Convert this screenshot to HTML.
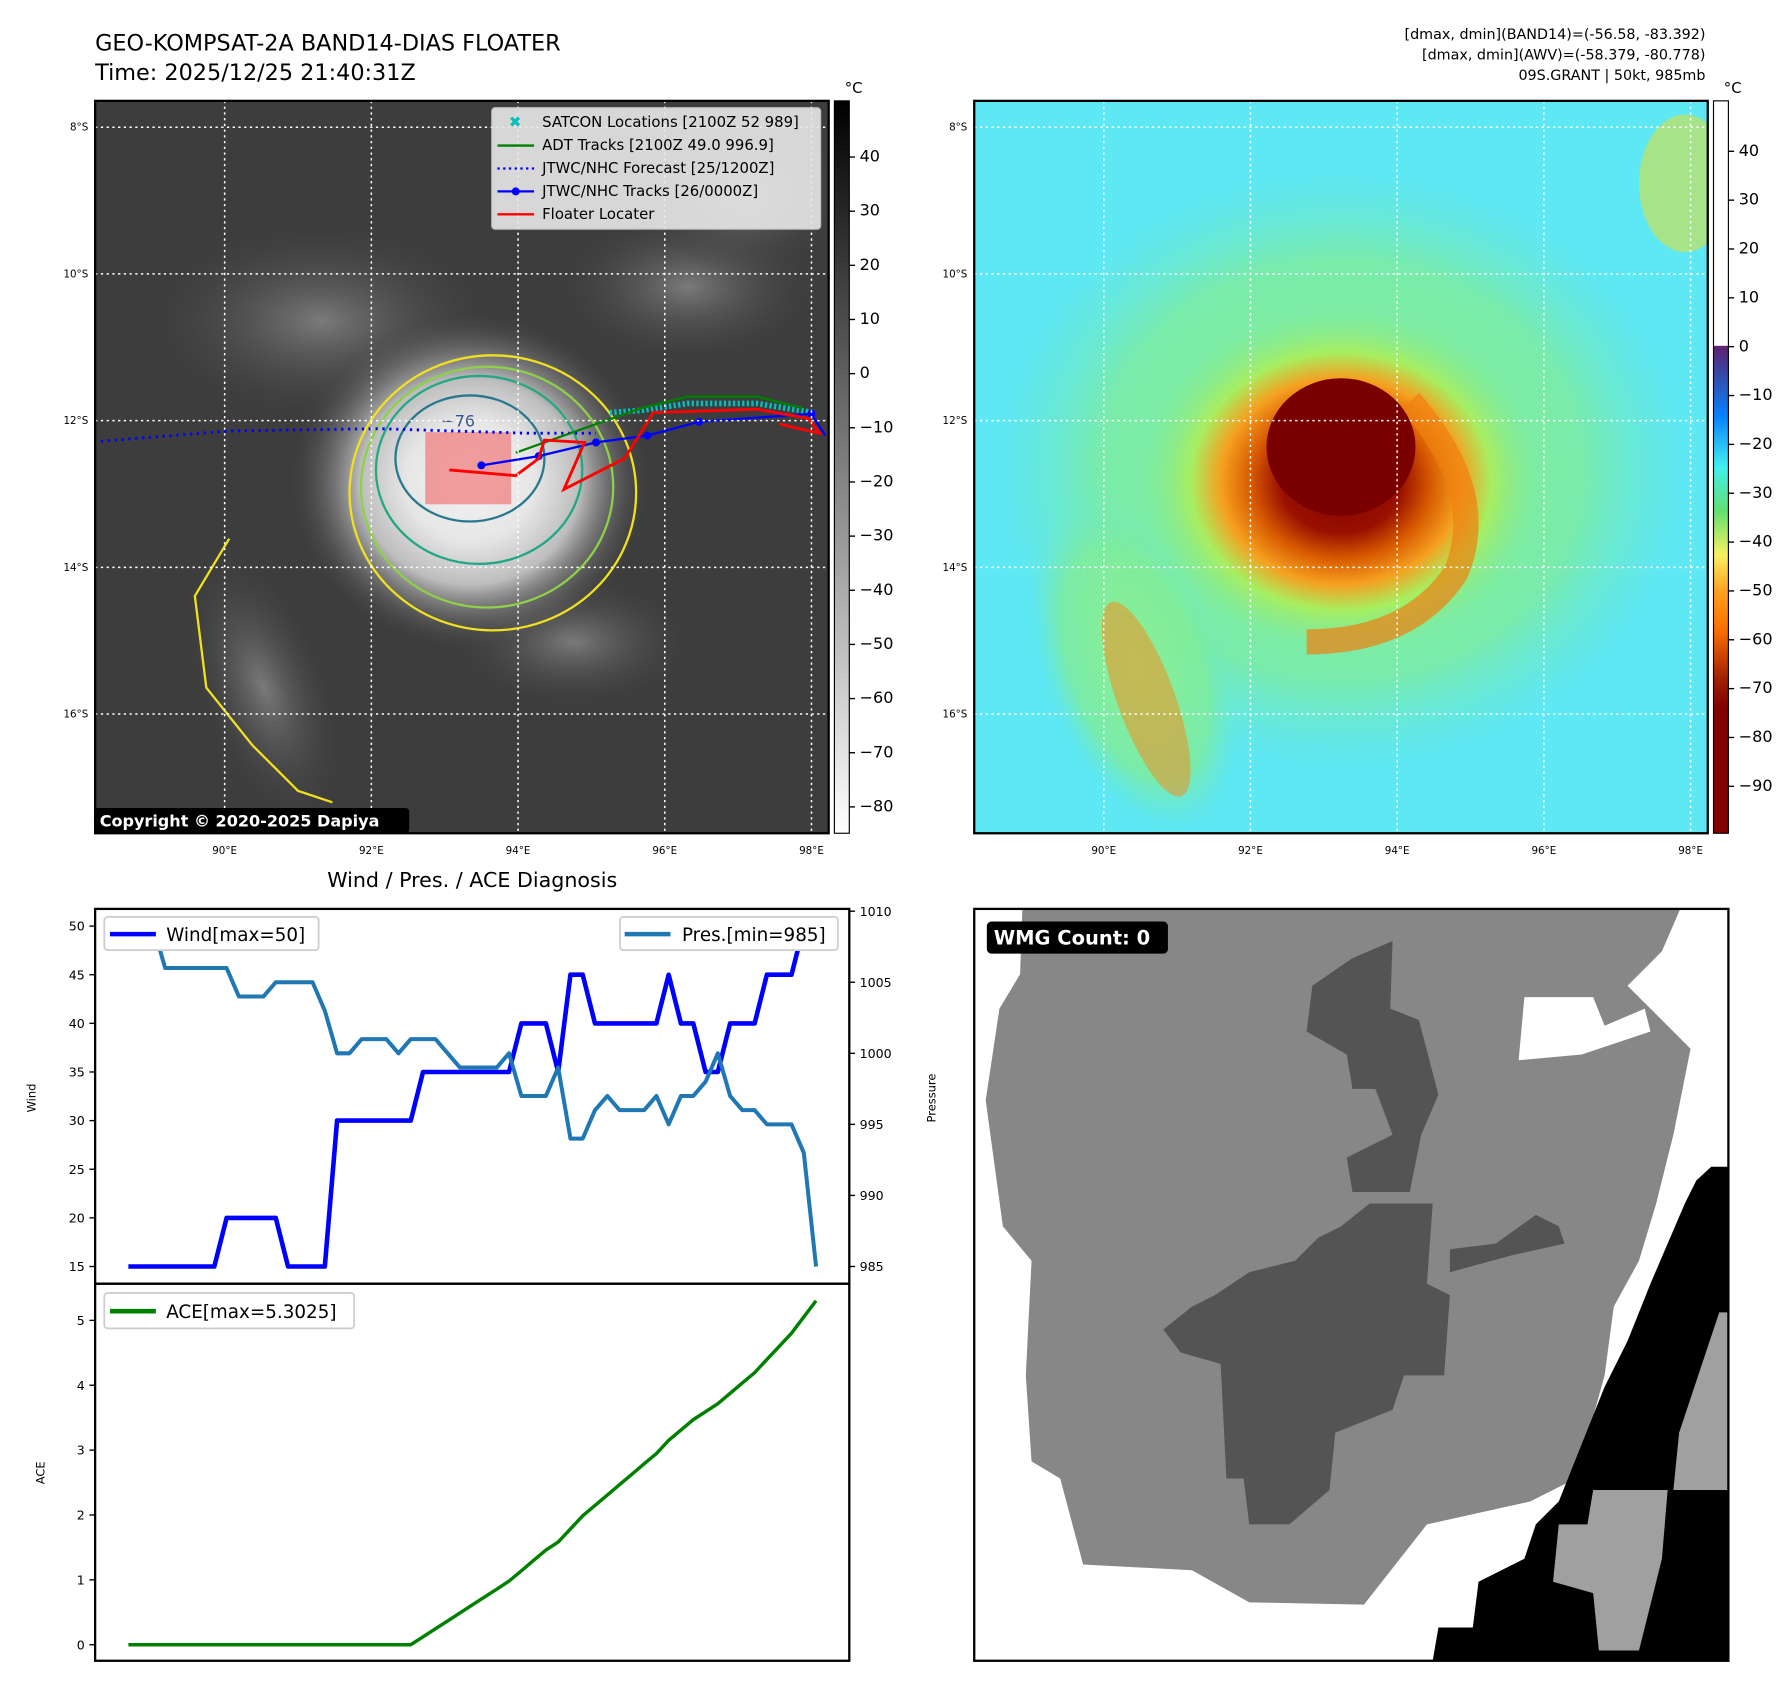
<!DOCTYPE html>
<html><head><meta charset="utf-8"><style>
html,body{margin:0;padding:0;background:#fff}
svg{display:block;font-family:"DejaVu Sans","Liberation Sans",sans-serif}
</style></head><body>
<svg id="fig" width="1788" height="1690" viewBox="0 0 1560 1474.5" xmlns="http://www.w3.org/2000/svg">
<defs>
<radialGradient id="stormL" cx="0.5" cy="0.5" r="0.5">
<stop offset="0" stop-color="#f4f4f4"/><stop offset="0.35" stop-color="#e6e6e6"/><stop offset="0.6" stop-color="#bdbdbd"/><stop offset="1" stop-color="#3c3c3c" stop-opacity="0"/></radialGradient>
<radialGradient id="stormR" cx="0.5" cy="0.5" r="0.5">
<stop offset="0" stop-color="#7a0000"/><stop offset="0.3" stop-color="#9a1000"/><stop offset="0.45" stop-color="#d85a00"/><stop offset="0.6" stop-color="#f5a020"/><stop offset="0.75" stop-color="#a8ee60"/><stop offset="1" stop-color="#80ea90" stop-opacity="0"/></radialGradient>
<radialGradient id="haloR" cx="0.5" cy="0.5" r="0.5">
<stop offset="0" stop-color="#8ff090"/><stop offset="0.7" stop-color="#80ec98" stop-opacity="0.8"/><stop offset="1" stop-color="#70e8c0" stop-opacity="0"/></radialGradient>
<radialGradient id="cloudL" cx="0.5" cy="0.5" r="0.5">
<stop offset="0" stop-color="#8a8a8a" stop-opacity="0.8"/><stop offset="1" stop-color="#3d3d3d" stop-opacity="0"/></radialGradient>
<linearGradient id="cbL" x1="0" y1="0" x2="0" y2="1"><stop offset="0" stop-color="#000"/><stop offset="1" stop-color="#fff"/></linearGradient>
<linearGradient id="cbR" x1="0" y1="0" x2="0" y2="1">
<stop offset="0" stop-color="#fff"/><stop offset="0.334" stop-color="#fff"/><stop offset="0.335" stop-color="#602070"/><stop offset="0.38" stop-color="#3050b0"/><stop offset="0.43" stop-color="#0880ff"/><stop offset="0.50" stop-color="#40f0f0"/><stop offset="0.56" stop-color="#60e070"/><stop offset="0.62" stop-color="#f8f060"/><stop offset="0.67" stop-color="#ffa020"/><stop offset="0.72" stop-color="#ff7000"/><stop offset="0.79" stop-color="#a02000"/><stop offset="0.83" stop-color="#800000"/><stop offset="1" stop-color="#800000"/></linearGradient>
<clipPath id="clipL"><rect x="83" y="88" width="640" height="639"/></clipPath>
<clipPath id="clipR"><rect x="850" y="88" width="640" height="639"/></clipPath>
<clipPath id="clipW"><rect x="850" y="793" width="658" height="656"/></clipPath>
</defs>

<text x="83" y="44" font-size="19.5">GEO-KOMPSAT-2A BAND14-DIAS FLOATER</text>
<text x="83" y="70" font-size="19.5">Time: 2025/12/25 21:40:31Z</text>
<g font-size="12.5" text-anchor="end">
<text x="1488" y="34">[dmax, dmin](BAND14)=(-56.58, -83.392)</text>
<text x="1488" y="52">[dmax, dmin](AWV)=(-58.379, -80.778)</text>
<text x="1488" y="70">09S.GRANT | 50kt, 985mb</text>
</g>

<g clip-path="url(#clipL)">
<rect x="83" y="88" width="640" height="639" fill="#3d3d3d"/>
<ellipse cx="280" cy="280" rx="160" ry="90" fill="url(#cloudL)"/>
<ellipse cx="600" cy="250" rx="120" ry="70" fill="url(#cloudL)"/>
<ellipse cx="230" cy="600" rx="60" ry="130" fill="url(#cloudL)" transform="rotate(-20 230 600)"/>
<ellipse cx="500" cy="560" rx="110" ry="60" fill="url(#cloudL)"/>
<ellipse cx="650" cy="170" rx="90" ry="70" fill="url(#cloudL)"/>
<ellipse cx="410" cy="420" rx="160" ry="150" fill="url(#stormL)"/>
<ellipse cx="430" cy="430" rx="125" ry="120" fill="none" stroke="#f0e020" stroke-width="2"/>
<ellipse cx="425" cy="425" rx="110" ry="105" fill="none" stroke="#8fd048" stroke-width="2"/>
<ellipse cx="418" cy="410" rx="90" ry="82" fill="none" stroke="#22a884" stroke-width="2"/>
<ellipse cx="410" cy="400" rx="65" ry="55" fill="none" stroke="#2a788e" stroke-width="2"/>
<path d="M200,470 L170,520 180,600 220,650 260,690 290,700" fill="none" stroke="#f0e020" stroke-width="2"/>
<text x="385" y="372" font-size="14" fill="#3b528b">−76</text>
<rect x="371" y="377" width="75" height="63" fill="#f08080" opacity="0.75"/>
<polyline points="88,385 200,376 330,374 460,378 520,378" fill="none" stroke="#0000ff" stroke-width="2.5" stroke-dasharray="2,4"/>
<polyline points="532,360 560,358 600,352 660,352 710,360" fill="none" stroke="#00c0c0" stroke-width="5" stroke-dasharray="2,2"/>
<polyline points="450,395 520,370 560,356 600,346 660,346 700,356" fill="none" stroke="#008000" stroke-width="2"/>
<polyline points="420,406 470,398 520,386 565,380 610,368 708,361 720,380" fill="none" stroke="#0000ff" stroke-width="2"/>
<g fill="#0000ff"><circle cx="420" cy="406" r="3.5"/><circle cx="470" cy="398" r="3.5"/><circle cx="520" cy="386" r="3.5"/><circle cx="565" cy="380" r="3.5"/><circle cx="610" cy="368" r="3.5"/><circle cx="708" cy="361" r="3.5"/></g>
<polyline points="392,410 450,415 470,400 475,384 510,386 492,427 545,400 570,360 660,357 705,365 715,378 680,370" fill="none" stroke="#ff0000" stroke-width="2.5"/>
<g stroke="#ffffff" stroke-width="1.3" stroke-dasharray="2,3">
<line x1="83" y1="111" x2="723" y2="111"/><line x1="83" y1="239" x2="723" y2="239"/><line x1="83" y1="367" x2="723" y2="367"/><line x1="83" y1="495" x2="723" y2="495"/><line x1="83" y1="623" x2="723" y2="623"/>
<line x1="196" y1="88" x2="196" y2="727"/><line x1="324" y1="88" x2="324" y2="727"/><line x1="452" y1="88" x2="452" y2="727"/><line x1="580" y1="88" x2="580" y2="727"/><line x1="708" y1="88" x2="708" y2="727"/>
</g>
</g>
<rect x="83" y="88" width="640" height="639" fill="none" stroke="#000" stroke-width="2"/>
<g font-size="13">
<rect x="429" y="94" width="287" height="106" rx="3" fill="#e8e8e8" opacity="0.9" stroke="#ccc"/>
<text x="444" y="111" font-size="13" fill="#00bfbf">✖</text><text x="473" y="111">SATCON Locations [2100Z 52 989]</text>
<line x1="434" y1="127" x2="466" y2="127" stroke="#008000" stroke-width="2"/><text x="473" y="131">ADT Tracks [2100Z 49.0 996.9]</text>
<line x1="434" y1="147" x2="466" y2="147" stroke="#0000ff" stroke-width="2" stroke-dasharray="2,3"/><text x="473" y="151">JTWC/NHC Forecast [25/1200Z]</text>
<line x1="434" y1="167" x2="466" y2="167" stroke="#0000ff" stroke-width="2"/><circle cx="450" cy="167" r="3.5" fill="#0000ff"/><text x="473" y="171">JTWC/NHC Tracks [26/0000Z]</text>
<line x1="434" y1="187" x2="466" y2="187" stroke="#ff0000" stroke-width="2"/><text x="473" y="191">Floater Locater</text>
</g>
<rect x="82" y="705" width="275" height="22" rx="3" fill="#000"/>
<text x="87" y="721" font-size="14" font-weight="bold" fill="#fff">Copyright © 2020-2025 Dapiya</text>

<g clip-path="url(#clipR)">
<rect x="850" y="88" width="640" height="639" fill="#5ee8f4"/>
<ellipse cx="1170" cy="410" rx="300" ry="260" fill="url(#haloR)"/>
<ellipse cx="990" cy="580" rx="80" ry="150" fill="url(#haloR)" transform="rotate(-20 990 580)"/>
<ellipse cx="1000" cy="610" rx="25" ry="90" fill="#f09020" opacity="0.55" transform="rotate(-20 1000 610)"/>
<ellipse cx="1470" cy="160" rx="40" ry="60" fill="#d8e040" opacity="0.6"/>
<ellipse cx="1170" cy="420" rx="175" ry="150" fill="url(#stormR)"/>
<path d="M1230,350 Q1300,430 1270,500 Q1230,560 1140,560" fill="none" stroke="#f08010" stroke-width="22" opacity="0.7"/>
<ellipse cx="1170" cy="390" rx="65" ry="60" fill="#7a0000"/>
<g stroke="#ffffff" stroke-width="1.3" stroke-dasharray="2,3">
<line x1="850" y1="111" x2="1490" y2="111"/><line x1="850" y1="239" x2="1490" y2="239"/><line x1="850" y1="367" x2="1490" y2="367"/><line x1="850" y1="495" x2="1490" y2="495"/><line x1="850" y1="623" x2="1490" y2="623"/>
<line x1="963" y1="88" x2="963" y2="727"/><line x1="1091" y1="88" x2="1091" y2="727"/><line x1="1219" y1="88" x2="1219" y2="727"/><line x1="1347" y1="88" x2="1347" y2="727"/><line x1="1475" y1="88" x2="1475" y2="727"/>
</g>
</g>
<rect x="850" y="88" width="640" height="639" fill="none" stroke="#000" stroke-width="2"/>

<g font-size="9" text-anchor="end">
<text x="77" y="114">8°S</text><text x="77" y="242">10°S</text><text x="77" y="370">12°S</text><text x="77" y="498">14°S</text><text x="77" y="626">16°S</text>
<text x="844" y="114">8°S</text><text x="844" y="242">10°S</text><text x="844" y="370">12°S</text><text x="844" y="498">14°S</text><text x="844" y="626">16°S</text>
</g>
<g font-size="9" text-anchor="middle">
<text x="196" y="745">90°E</text><text x="324" y="745">92°E</text><text x="452" y="745">94°E</text><text x="580" y="745">96°E</text><text x="708" y="745">98°E</text>
<text x="963" y="745">90°E</text><text x="1091" y="745">92°E</text><text x="1219" y="745">94°E</text><text x="1347" y="745">96°E</text><text x="1475" y="745">98°E</text>
</g>

<g>
<rect x="728" y="88" width="13" height="639" fill="url(#cbL)" stroke="#000"/>
<text x="737" y="81" font-size="13">°C</text>
<g id="cbLticks"></g>
</g>
<g>
<rect x="1495" y="88" width="13" height="639" fill="url(#cbR)" stroke="#000"/>
<text x="1504" y="81" font-size="13">°C</text>
<g id="cbRticks"></g>
</g>

<text x="412" y="774" font-size="18" text-anchor="middle">Wind / Pres. / ACE Diagnosis</text>
<g id="diag"></g>
<rect x="83" y="793" width="658" height="327" fill="none" stroke="#000" stroke-width="2"/>
<rect x="83" y="1120" width="658" height="329" fill="none" stroke="#000" stroke-width="2"/>
<text transform="translate(31,958) rotate(-90)" font-size="10" text-anchor="middle">Wind</text>
<text transform="translate(816,958) rotate(-90)" font-size="10" text-anchor="middle">Pressure</text>
<text transform="translate(39,1285) rotate(-90)" font-size="10" text-anchor="middle">ACE</text>
<g>
<rect x="91" y="800" width="187" height="29" rx="3" fill="#fff" stroke="#ccc" stroke-width="1.5"/>
<line x1="96" y1="815" x2="136" y2="815" stroke="#0000ff" stroke-width="4"/>
<text x="145" y="821" font-size="16">Wind[max=50]</text>
</g>
<g>
<rect x="541" y="800" width="190" height="29" rx="3" fill="#fff" stroke="#ccc" stroke-width="1.5"/>
<line x1="545" y1="815" x2="585" y2="815" stroke="#1f77b4" stroke-width="4"/>
<text x="595" y="821" font-size="16">Pres.[min=985]</text>
</g>
<g>
<rect x="91" y="1128" width="218" height="31" rx="3" fill="#fff" stroke="#ccc" stroke-width="1.5"/>
<line x1="96" y1="1144" x2="136" y2="1144" stroke="#008000" stroke-width="4"/>
<text x="145" y="1150" font-size="16">ACE[max=5.3025]</text>
</g>

<g clip-path="url(#clipW)">
<rect x="850" y="793" width="658" height="656" fill="#fff"/>
<polygon fill="#878787" points="892,793 1466,793 1450,830 1420,860 1440,880 1475,915 1460,990 1445,1050 1430,1100 1408,1140 1400,1200 1375,1290 1335,1310 1245,1330 1190,1400 1090,1398 1040,1370 945,1365 925,1290 900,1275 895,1200 900,1100 875,1070 860,960 872,880 890,850"/>
<polygon fill="#ffffff" points="1330,870 1390,870 1400,895 1435,880 1440,900 1380,920 1325,925"/>
<polygon fill="#545454" points="1180,836 1215,821 1213,880 1238,890 1255,955 1240,990 1230,1040 1180,1040 1175,1010 1215,990 1200,950 1180,950 1175,920 1140,900 1145,860"/>
<polygon fill="#545454" points="1195,1050 1250,1050 1245,1120 1265,1130 1260,1200 1225,1200 1215,1230 1165,1250 1160,1300 1125,1330 1090,1330 1085,1290 1070,1290 1065,1190 1030,1180 1015,1160 1040,1140 1060,1130 1090,1110 1130,1100 1150,1080 1170,1070"/>
<polygon fill="#545454" points="1265,1090 1305,1085 1340,1060 1360,1070 1365,1085 1320,1095 1265,1110"/>
<polygon fill="#000" points="1493,1018 1508,1018 1508,1449 1250,1449 1255,1420 1285,1420 1290,1380 1330,1360 1340,1330 1360,1310 1380,1260 1400,1210 1420,1170 1440,1120 1470,1050 1480,1030"/>
<polygon fill="#a0a0a0" points="1500,1145 1508,1145 1508,1300 1460,1300 1465,1250"/>
<polygon fill="#a0a0a0" points="1390,1300 1455,1300 1450,1360 1430,1440 1395,1440 1390,1390 1355,1380 1360,1330 1385,1330"/>
</g>
<rect x="850" y="793" width="658" height="656" fill="none" stroke="#000" stroke-width="2"/>
<rect x="861" y="804" width="158" height="28" rx="4" fill="#000"/>
<text x="867" y="824" font-size="17" font-weight="bold" fill="#fff">WMG Count: 0</text>
</svg>
<script>
const windVals=[15,15,15,15,15,15,15,15,20,20,20,20,20,15,15,15,15,30,30,30,30,30,30,30,35,35,35,35,35,35,35,35,40,40,40,35,45,45,40,40,40,40,40,40,45,40,40,35,35,40,40,40,45,45,45,50,50];
const presVals=[1009,1009,1009,1006,1006,1006,1006,1006,1006,1004,1004,1004,1005,1005,1005,1005,1003,1000,1000,1001,1001,1001,1000,1001,1001,1001,1000,999,999,999,999,1000,997,997,997,999,994,994,996,997,996,996,996,997,995,997,997,998,1000,997,996,996,995,995,995,993,985];
const aceVals=[0,0,0,0,0,0,0,0,0,0,0,0,0,0,0,0,0,0,0,0,0,0,0,0,0.1225,0.245,0.3675,0.49,0.6125,0.735,0.8575,0.98,1.14,1.30,1.46,1.5825,1.785,1.9875,2.1475,2.3075,2.4675,2.6275,2.7875,2.9475,3.15,3.31,3.47,3.5925,3.715,3.875,4.035,4.195,4.3975,4.6,4.8025,5.0525,5.3025];
const windTicks=[15,20,25,30,35,40,45,50];
const presTicks=[985,990,995,1000,1005,1010];
const aceTicks=[0,1,2,3,4,5];
const cbLTicks=[40,30,20,10,0,-10,-20,-30,-40,-50,-60,-70,-80];
const cbRTicks=[40,30,20,10,0,-10,-20,-30,-40,-50,-60,-70,-80,-90];
const NS='http://www.w3.org/2000/svg';
const xS=i=>112+i*(600/(windVals.length-1));
const yW=v=>1105-(v-15)*(297/35);
const yP=v=>1105-(v-985)*12.4;
const yA=v=>1435-v*56.6;
const yCL=v=>137+(40-v)*4.725;
const yCR=v=>132+(40-v)*4.262;
function mk(tag,attrs,parent){const e=document.createElementNS(NS,tag);for(const k in attrs)e.setAttribute(k,attrs[k]);parent.appendChild(e);return e;}
const diag=document.getElementById('diag');
function line(vals,yf,color,w,name){
  const d=vals.map((v,i)=>(i?'L':'M')+xS(i).toFixed(1)+','+yf(v).toFixed(1)).join(' ');
  const p=mk('path',{d:d,fill:'none',stroke:color,'stroke-width':w,'stroke-linejoin':'round'},diag);
  
  
}
line(windVals,yW,'#0000ff',4,'wind-line');
line(presVals,yP,'#1f77b4',3.5,'pressure-line');
line(aceVals,yA,'#008000',3,'ace-line');
function ticks(list,yf,x,side,parent,fs,name){
  list.forEach(v=>{
    const y=yf(v);
    const l=mk('line',{x1:x,x2:x+(side<0?-5:5),y1:y,y2:y,stroke:'#000','stroke-width':1.2},parent);
    
    
    const t=mk('text',{x:x+(side<0?-9:9),y:y+4,'font-size':fs,'text-anchor':side<0?'end':'start'},parent);
    t.textContent=String(v).replace('-','−');
    
    
  });
}
ticks(windTicks,yW,83,-1,diag,11,'wind');
ticks(presTicks,yP,741,1,diag,11,'pressure');
ticks(aceTicks,yA,83,-1,diag,11,'ace');
ticks(cbLTicks,yCL,741,1,document.getElementById('cbLticks'),14,'colorbar-left');
ticks(cbRTicks,yCR,1508,1,document.getElementById('cbRticks'),14,'colorbar-right');
</script>
</body></html>
